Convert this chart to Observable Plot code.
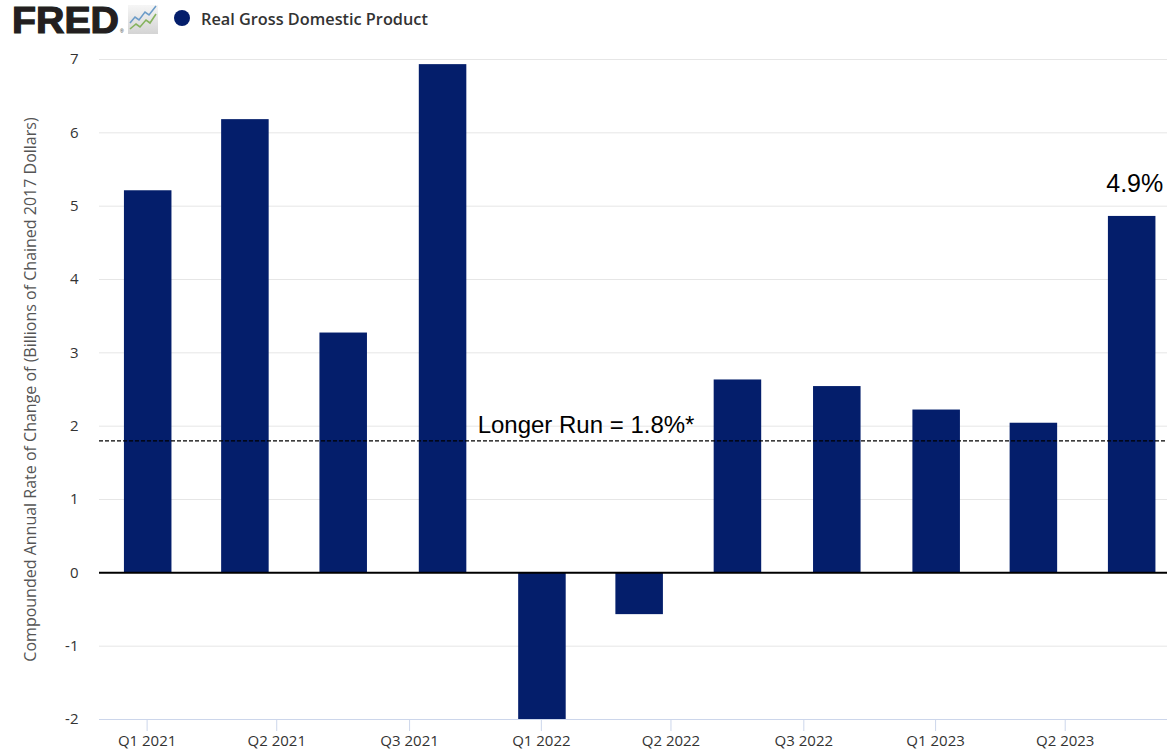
<!DOCTYPE html>
<html>
<head>
<meta charset="utf-8">
<script src="https://cdn.jsdelivr.net/npm/d3@7"></script>
<script src="https://cdn.jsdelivr.net/npm/@observablehq/plot@0.6"></script>
<style>
  html, body { margin: 0; padding: 0; background: #fff; overflow: hidden; }
  #header { width: 1167px; height: 40px; display: block; }
  #chart svg { display: block; }
</style>
</head>
<body>
<svg id="header" width="1167" height="40" xmlns="http://www.w3.org/2000/svg">
  <defs>
    <linearGradient id="iconbg" x1="0" y1="0" x2="0" y2="1">
      <stop offset="0" stop-color="#f6f6f6"/>
      <stop offset="1" stop-color="#d4d4d4"/>
    </linearGradient>
  </defs>
  <text x="12" y="33" font-family="Liberation Sans, Arial, sans-serif" font-weight="bold" font-size="37" fill="#231f20" stroke="#231f20" stroke-width="1.2" textLength="107" lengthAdjust="spacingAndGlyphs">FRED</text>
  <text x="120" y="33" font-family="Liberation Sans, Arial, sans-serif" font-size="5" fill="#231f20">®</text>
  <rect x="128" y="5" width="30" height="29" fill="url(#iconbg)"/>
  <polyline points="130,23 135,17 139,20 145,12 149,15 156,6" fill="none" stroke="#6c9cc8" stroke-width="1.6"/>
  <polyline points="130,29 136,24 140,27 146,20 150,23 156,14" fill="none" stroke="#86b35e" stroke-width="1.6"/>
  <circle id="legdot" cx="182" cy="18" r="8"/>
  <text id="legtext" x="201" y="25" font-family="Open Sans, sans-serif" font-weight="600" font-size="16.3" fill="#333"></text>
</svg>
<div id="chart"></div>
<script>
// ---- data ----
const quarterDates = ["2021-01-01","2021-04-01","2021-07-01","2021-10-01","2022-01-01","2022-04-01","2022-07-01","2022-10-01","2023-01-01","2023-04-01","2023-07-01"];
const gdpGrowth = [5.21, 6.18, 3.27, 6.93, -2.0, -0.57, 2.63, 2.54, 2.22, 2.04, 4.86];
const tickDates = ["2021-01-01","2021-05-01","2021-09-01","2022-01-01","2022-05-01","2022-09-01","2023-01-01","2023-05-01"];
const tickLabels = ["Q1 2021","Q2 2021","Q3 2021","Q1 2022","Q2 2022","Q3 2022","Q1 2023","Q2 2023"];
const yTicks = [-2, -1, 0, 1, 2, 3, 4, 5, 6, 7];
const longerRun = 1.8;
const longerRunLabel = "Longer Run = 1.8%*";
const longerRunLabelDate = "2021-11-03";
const seriesName = "Real Gross Domestic Product";
const yTitle = "Compounded Annual Rate of Change of (Billions of Chained 2017 Dollars)";

const navy = "#041e6b";
document.getElementById("legdot").setAttribute("fill", navy);
document.getElementById("legtext").textContent = seriesName;

const data = quarterDates.map((d, i) => ({date: new Date(d), value: gdpGrowth[i]}));
const ticks = tickDates.map(d => new Date(d));
const labelOf = new Map(ticks.map((d, i) => [+d, tickLabels[i]]));
const last = data[data.length - 1];

const chart = Plot.plot({
  width: 1167,
  height: 709,
  marginLeft: 99,
  marginRight: 0,
  marginTop: 19,
  marginBottom: 30,
  style: {fontFamily: "'Open Sans', sans-serif", fontSize: "15px", color: "#333", background: "#fff"},
  x: {type: "utc", domain: [new Date("2020-11-17T22:00Z"), new Date("2023-08-03T17:00Z")]},
  y: {domain: [-2, 7]},
  marks: [
    Plot.gridY(yTicks.filter(v => v !== 0 && v !== -2), {stroke: "#e6e6e6", strokeOpacity: 1}),
    Plot.axisY(yTicks, {tickSize: 0, tickPadding: 21, fontSize: 15, fill: "#333", label: null, tickFormat: d => String(d)}),
    Plot.rectY(data, {
      x1: d => d3.utcDay.offset(d.date, -21),
      x2: d => d3.utcDay.offset(d.date, 23),
      y1: 0,
      y2: "value",
      fill: navy
    }),
    Plot.ruleY([0], {stroke: "#000", strokeWidth: 2}),
    Plot.ruleY([-2], {stroke: "#ccd6eb", strokeWidth: 1}),
    Plot.axisX(ticks, {
      tickSize: 12, tickPadding: 4, stroke: "#ccd6eb", fill: "#333", fontSize: 15,
      tickFormat: d => labelOf.get(+d), label: null
    }),
    Plot.ruleY([longerRun], {stroke: "#000", strokeWidth: 1.2, strokeDasharray: "4,2"}),
    Plot.text([longerRunLabel], {
      x: () => new Date(longerRunLabelDate), y: () => longerRun,
      textAnchor: "start", lineAnchor: "bottom", dy: -8,
      fontFamily: "'Liberation Sans', Arial, sans-serif", fontSize: 24, fill: "#000"
    }),
    Plot.text([last], {
      x: d => d3.utcDay.offset(d.date, -23), y: "value",
      text: d => `${d.value.toFixed(1)}%`,
      textAnchor: "start", lineAnchor: "bottom", dy: -24,
      fontFamily: "'Liberation Sans', Arial, sans-serif", fontSize: 25, fill: "#000"
    }),
    Plot.text([yTitle], {
      frameAnchor: "left", dx: -69, rotate: -90, textAnchor: "middle",
      fontSize: 16, fill: "#555"
    })
  ]
});
document.getElementById("chart").appendChild(chart);
</script>
</body>
</html>
